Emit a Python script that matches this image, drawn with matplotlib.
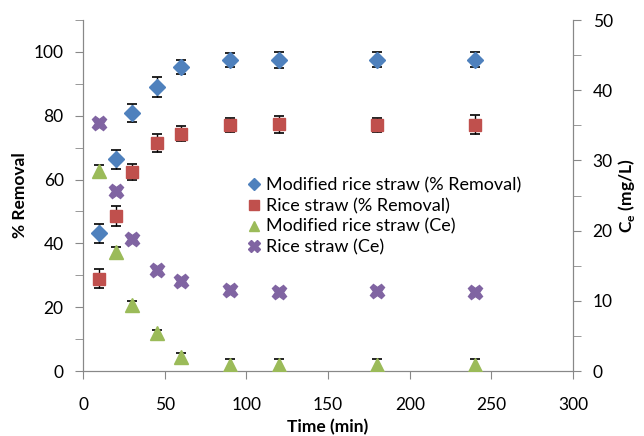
import matplotlib
matplotlib.use("Agg")
import matplotlib.pyplot as plt
from matplotlib.ticker import MultipleLocator

plt.rcParams['font.family'] = ['Lato', 'DejaVu Sans']

time = [10, 20, 30, 45, 60, 90, 120, 180, 240]
mod_removal = [43.2, 66.3, 81.0, 89.0, 95.4, 97.6, 97.6, 97.6, 97.6]
mod_removal_err = [3.0, 3.0, 2.8, 3.0, 2.2, 2.2, 2.5, 2.3, 2.3]
rice_removal = [29.0, 48.6, 62.4, 71.4, 74.4, 77.0, 77.3, 77.2, 77.2]
rice_removal_err = [3.0, 3.0, 2.6, 2.8, 2.3, 2.2, 2.6, 2.2, 3.0]
mod_ce = [28.5, 17.0, 9.4, 5.4, 2.0, 0.9, 0.9, 0.9, 0.9]
mod_ce_err = [0.8, 0.7, 0.6, 0.5, 0.6, 0.8, 0.8, 0.8, 0.8]
rice_ce = [35.3, 25.6, 18.8, 14.4, 12.8, 11.5, 11.3, 11.4, 11.2]
rice_ce_err = [0.4, 0.4, 0.4, 0.4, 0.4, 0.4, 0.4, 0.4, 0.4]

labels = ['Modified rice straw (% Removal)', 'Rice straw (% Removal)',
          'Modified rice straw (Ce)', 'Rice straw (Ce)']
colors = ['#4F81BD', '#C0504D', '#9BBB59', '#8064A2']

fig = plt.figure(figsize=(6.44, 4.36), dpi=100)
ax = fig.add_axes([0.129, 0.149, 0.761, 0.805])
ax2 = ax.twinx()

ekw = dict(fmt='none', ecolor='black', elinewidth=1.0, capsize=3.5, capthick=1.2)
ax.errorbar(time, mod_removal, yerr=mod_removal_err, zorder=2, **ekw)
ax.errorbar(time, rice_removal, yerr=rice_removal_err, zorder=2, **ekw)
ax2.errorbar(time, mod_ce, yerr=mod_ce_err, zorder=2, **ekw)
ax2.errorbar(time, rice_ce, yerr=rice_ce_err, zorder=2, **ekw)

h1, = ax.plot(time, mod_removal, 'D', color=colors[0], ms=8, mec=colors[0], zorder=3, label=labels[0])
h2, = ax.plot(time, rice_removal, 's', color=colors[1], ms=8.5, mec=colors[1], zorder=3, label=labels[1])
h3, = ax2.plot(time, mod_ce, '^', color=colors[2], ms=9.5, mec=colors[2], zorder=3, label=labels[2])
h4, = ax2.plot(time, rice_ce, 'X', color=colors[3], ms=10.5, mec=colors[3], zorder=3, label=labels[3])

ax.set_xlim(0, 300)
ax.set_ylim(0, 110)
ax2.set_ylim(0, 50)
ax.xaxis.set_major_locator(MultipleLocator(50))
ax.yaxis.set_major_locator(MultipleLocator(20))
ax.yaxis.set_minor_locator(MultipleLocator(10))
ax2.yaxis.set_major_locator(MultipleLocator(10))
ax2.yaxis.set_minor_locator(MultipleLocator(5))

for a in (ax, ax2):
    a.spines['top'].set_visible(False)
    for s in a.spines.values():
        s.set_color('#888888')
    a.tick_params(axis='both', which='both', colors='#888888', labelcolor='black',
                  labelsize=12.5, direction='out')
    a.tick_params(which='major', length=6)
    a.tick_params(which='minor', length=6)
ax.tick_params(axis='x', pad=13)
ax.tick_params(axis='y', pad=8)
ax2.tick_params(axis='y', pad=8)

ax.set_xlabel('Time (min)', fontsize=12.5, fontweight='bold', labelpad=4)
ax.set_ylabel('% Removal', fontsize=12.5, fontweight='bold', labelpad=4)
ax2.set_ylabel('C$_\\mathregular{e}$ (mg/L)', fontsize=12.5, fontweight='bold', labelpad=2)

ax.legend(handles=[h1, h2, h3, h4], loc='upper left', bbox_to_anchor=(0.315, 0.572),
          frameon=False, fontsize=13, handletextpad=0.2, labelspacing=0.25,
          handlelength=1.0, borderaxespad=0, markerscale=0.8)

fig.savefig('out.png', dpi=100)
